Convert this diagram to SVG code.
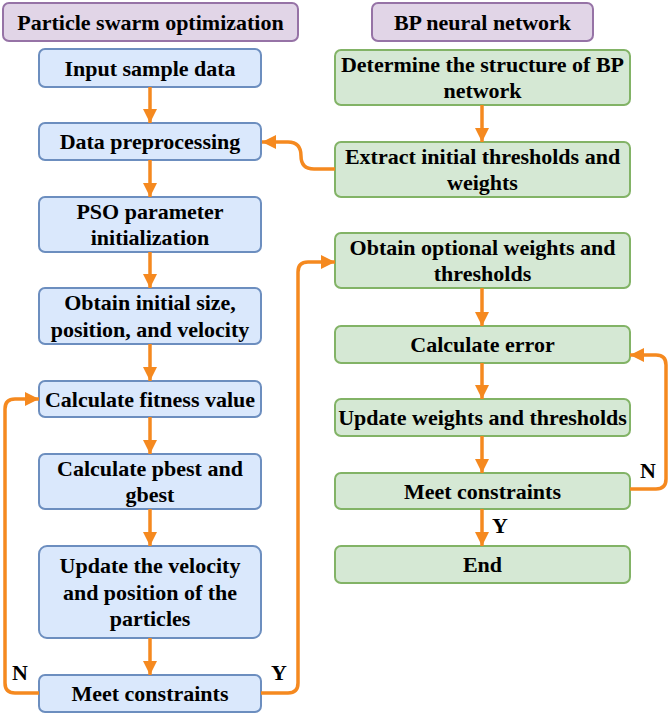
<svg xmlns="http://www.w3.org/2000/svg" width="671" height="714" viewBox="0 0 671 714">
<style>
text{font-family:"Liberation Serif","Times New Roman",serif;font-weight:bold;font-size:22px;fill:#000;text-anchor:middle}
.t{fill:#e1d5e7;stroke:#9673a6;stroke-width:2}
.b{fill:#dae8fc;stroke:#6c8ebf;stroke-width:2}
.g{fill:#d5e8d4;stroke:#82b366;stroke-width:2}
.c{fill:none;stroke:#f5891f;stroke-width:3.5}
</style>
<defs>
<marker id="ah" markerUnits="userSpaceOnUse" markerWidth="16" markerHeight="16" viewBox="0 0 16 16" refX="15" refY="8" orient="auto">
<path d="M1,1 L15,8 L1,15 Z" fill="#f5891f"/>
</marker>
</defs>
<rect width="671" height="714" fill="#fff"/>
<g id="title-pso"><rect class="t" x="3" y="3" width="295" height="38" rx="6"/><text x="150.5" y="29.5">Particle swarm optimization</text></g>
<g id="title-bp"><rect class="t" x="372" y="3" width="221" height="38" rx="6"/><text x="482.5" y="29.5">BP neural network</text></g>

<g id="l1"><rect class="b" x="39" y="49" width="222" height="38" rx="6"/><text x="150" y="75.5">Input sample data</text></g>
<g id="l2"><rect class="b" x="39" y="123" width="222" height="37" rx="6"/><text x="150" y="149">Data preprocessing</text></g>
<g id="l3"><rect class="b" x="39" y="197" width="222" height="55" rx="6"/><text x="150" y="218.5">PSO parameter</text><text x="150" y="245">initialization</text></g>
<g id="l4"><rect class="b" x="39" y="288" width="222" height="56" rx="6"/><text x="150" y="310">Obtain initial size,</text><text x="150" y="336.5">position, and velocity</text></g>
<g id="l5"><rect class="b" x="39" y="381" width="222" height="36" rx="6"/><text x="150" y="406.5">Calculate fitness value</text></g>
<g id="l6"><rect class="b" x="39" y="454" width="222" height="55" rx="6"/><text x="150" y="475.5">Calculate pbest and</text><text x="150" y="502">gbest</text></g>
<g id="l7"><rect class="b" x="39" y="546" width="222" height="92" rx="8"/><text x="150" y="573">Update the velocity</text><text x="150" y="599.5">and position of the</text><text x="150" y="626">particles</text></g>
<g id="l8"><rect class="b" x="39" y="675" width="222" height="37" rx="6"/><text x="150" y="701">Meet constraints</text></g>

<g id="r1"><rect class="g" x="335" y="50" width="295" height="55" rx="6"/><text x="482.5" y="71.5">Determine the structure of BP</text><text x="482.5" y="98">network</text></g>
<g id="r2"><rect class="g" x="335" y="142" width="295" height="55" rx="6"/><text x="482.5" y="163.5">Extract initial thresholds and</text><text x="482.5" y="190">weights</text></g>
<g id="r3"><rect class="g" x="335" y="233" width="295" height="55" rx="6"/><text x="482.5" y="254.5">Obtain optional weights and</text><text x="482.5" y="281">thresholds</text></g>
<g id="r4"><rect class="g" x="335" y="326" width="295" height="37" rx="6"/><text x="482.5" y="352">Calculate error</text></g>
<g id="r5"><rect class="g" x="335" y="399" width="295" height="37" rx="6"/><text x="482.5" y="425">Update weights and thresholds</text></g>
<g id="r6"><rect class="g" x="335" y="473" width="295" height="36" rx="6"/><text x="482.5" y="498.5">Meet constraints</text></g>
<g id="r7"><rect class="g" x="335" y="546" width="295" height="37" rx="6"/><text x="482.5" y="572">End</text></g>

<g id="connectors">
<path class="c" marker-end="url(#ah)" d="M150,87 V123"/>
<path class="c" marker-end="url(#ah)" d="M150,160 V197"/>
<path class="c" marker-end="url(#ah)" d="M150,252 V288"/>
<path class="c" marker-end="url(#ah)" d="M150,344 V381"/>
<path class="c" marker-end="url(#ah)" d="M150,417 V454"/>
<path class="c" marker-end="url(#ah)" d="M150,509 V546"/>
<path class="c" marker-end="url(#ah)" d="M150,638 V675"/>
<path class="c" marker-end="url(#ah)" d="M482,105 V142"/>
<path class="c" marker-end="url(#ah)" d="M482,288 V326"/>
<path class="c" marker-end="url(#ah)" d="M482,363 V399"/>
<path class="c" marker-end="url(#ah)" d="M482,436 V473"/>
<path class="c" marker-end="url(#ah)" d="M482,509 V546"/>
<path class="c" marker-end="url(#ah)" d="M335,169 H314 Q301,169 301,156 Q301,142 288,142 H262"/>
<path class="c" marker-end="url(#ah)" d="M261,693 H288 Q298,693 298,683 V272 Q298,262 308,262 H335"/>
<path class="c" marker-end="url(#ah)" d="M39,693 H15 Q5,693 5,683 V409 Q5,399 15,399 H39"/>
<path class="c" marker-end="url(#ah)" d="M630,489 H656 Q666,489 666,479 V365 Q666,355 656,355 H630"/>
<text x="20" y="680">N</text>
<text x="279" y="680">Y</text>
<text x="648" y="478">N</text>
<text x="500" y="533">Y</text>
</g>
</svg>
